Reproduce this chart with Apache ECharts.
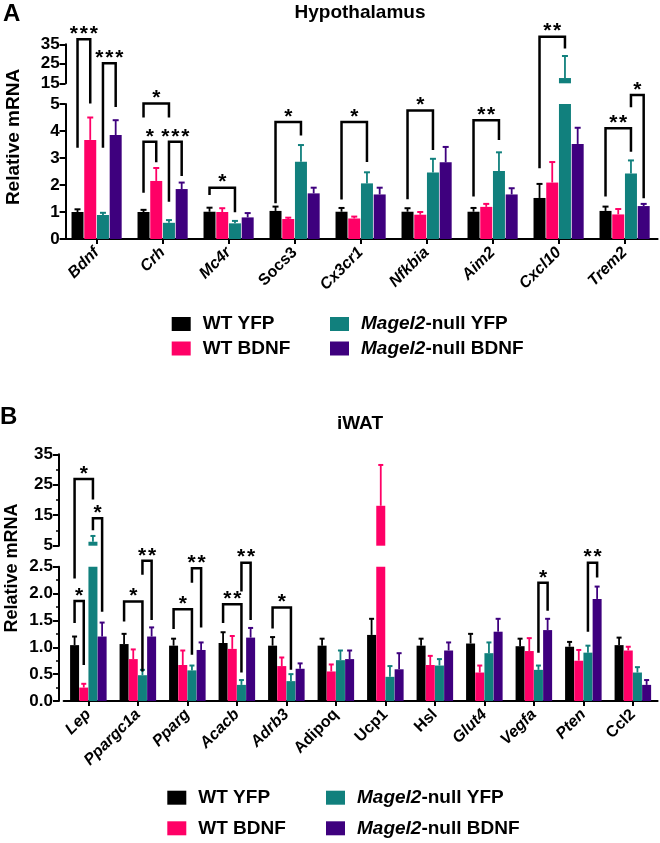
<!DOCTYPE html>
<html>
<head>
<meta charset="utf-8">
<script src="https://cdn.jsdelivr.net/npm/echarts/dist/echarts.min.js"></script>
<style>html,body{margin:0;padding:0;background:#fff}#c{width:660px;height:843px}</style>
</head>
<body>
<div id="c"></div>
<script>
// ---------------- DATA ----------------
const groupNames = ['WT YFP', 'WT BDNF', 'Magel2-null YFP', 'Magel2-null BDNF'];

// Panel A: Hypothalamus
const hypCats = ['Bdnf', 'Crh', 'Mc4r', 'Socs3', 'Cx3cr1', 'Nfkbia', 'Aim2', 'Cxcl10', 'Trem2'];
const hypWtYfp      = [1.00, 1.00, 1.01, 1.04, 1.01, 1.01, 1.01, 1.52, 1.04];
const hypWtYfpSem   = [0.10, 0.08, 0.15, 0.16, 0.14, 0.13, 0.14, 0.52, 0.16];
const hypWtBdnf     = [3.67, 2.15, 1.00, 0.74, 0.76, 0.90, 1.19, 2.09, 0.91];
const hypWtBdnfSem  = [0.83, 0.48, 0.14, 0.05, 0.07, 0.10, 0.11, 0.76, 0.20];
const hypNullYfp    = [0.89, 0.60, 0.58, 2.86, 2.06, 2.46, 2.52, 17.7, 2.43];
const hypNullYfpSem = [0.08, 0.10, 0.09, 0.62, 0.41, 0.51, 0.69, 11.3, 0.48];
const hypNullBdnf   = [3.85, 1.85, 0.80, 1.69, 1.65, 2.84, 1.65, 3.52, 1.22];
const hypNullBdnfSem= [0.55, 0.24, 0.16, 0.21, 0.25, 0.57, 0.23, 0.60, 0.08];
// brackets: [category, groupA, groupB, top level, legA bottom, legB bottom, stars]
const hypBrackets = [
  [0, 0, 1, 37.6, 3.38, 5.3, 3],
  [0, 2, 3, 25.3, 3.38, 4.89, 3],
  [1, 0, 2, 5.3, 4.5, 4.5, 1],
  [1, 0, 1, 3.6, 1.71, 2.84, 1],
  [1, 2, 3, 3.6, 1.38, 2.33, 3],
  [2, 0, 2, 1.9, 1.63, 0.99, 1],
  [3, 0, 2, 4.33, 1.32, 3.83, 1],
  [4, 0, 2, 4.33, 1.46, 2.85, 1],
  [5, 0, 2, 4.76, 1.47, 3.3, 1],
  [6, 0, 2, 4.4, 1.57, 3.67, 2],
  [7, 0, 2, 38.9, 2.62, 32.9, 2],
  [8, 0, 2, 4.1, 1.57, 3.23, 2],
  [8, 2, 3, 9.35, 4.88, 1.51, 1]
];
const hypLowTicks = [0, 5, 1];   // min, max, interval
const hypUpTicks = [15, 35, 10];

// Panel B: iWAT
const watCats = ['Lep', 'Ppargc1a', 'Pparg', 'Acacb', 'Adrb3', 'Adipoq', 'Ucp1', 'Hsl', 'Glut4', 'Vegfa', 'Pten', 'Ccl2'];
const watWtYfp      = [1.04, 1.06, 1.03, 1.08, 1.03, 1.03, 1.23, 1.03, 1.07, 1.02, 1.01, 1.04];
const watWtYfpSem   = [0.16, 0.19, 0.13, 0.20, 0.16, 0.13, 0.30, 0.13, 0.18, 0.14, 0.09, 0.14];
const watWtBdnf     = [0.25, 0.78, 0.67, 0.97, 0.65, 0.55, 18.1, 0.67, 0.53, 0.93, 0.75, 0.94];
const watWtBdnfSem  = [0.07, 0.18, 0.27, 0.24, 0.16, 0.13, 13.4, 0.17, 0.13, 0.24, 0.20, 0.07];
const watNullYfp    = [6.3, 0.48, 0.57, 0.30, 0.37, 0.76, 0.45, 0.66, 0.89, 0.58, 0.90, 0.53];
const watNullYfpSem = [1.9, 0.10, 0.09, 0.09, 0.13, 0.18, 0.20, 0.12, 0.20, 0.08, 0.13, 0.10];
const watNullBdnf   = [1.20, 1.20, 0.95, 1.18, 0.60, 0.78, 0.59, 0.94, 1.29, 1.32, 1.90, 0.30];
const watNullBdnfSem= [0.26, 0.17, 0.14, 0.18, 0.10, 0.16, 0.30, 0.15, 0.24, 0.21, 0.23, 0.09];
const watBrackets = [
  [0, 0, 2, 26.9, 2.28, 20.2, 1],
  [0, 2, 3, 14.0, 10.1, 1.66, 1],
  [0, 0, 1, 1.86, 1.45, 0.67, 1],
  [1, 0, 2, 1.85, 1.48, 0.55, 1],
  [1, 2, 3, 3.21, 2.35, 1.51, 2],
  [2, 0, 2, 1.71, 1.34, 0.86, 1],
  [2, 2, 3, 2.47, 2.2, 1.37, 2],
  [3, 0, 2, 1.8, 1.45, 0.53, 2],
  [3, 2, 3, 2.98, 2.04, 1.51, 2],
  [4, 0, 2, 1.74, 1.35, 0.58, 1],
  [9, 2, 3, 2.2, 0.9, 1.68, 1],
  [10, 2, 3, 2.98, 1.29, 2.3, 2]
];
const watLowTicks = [0, 2.5, 0.5];
const watUpTicks = [5, 35, 10];

const hypUprightLabels = ['Socs3'];
const watUprightLabels = ['Adipoq', 'Ucp1', 'Hsl', 'Ccl2'];

// ---------------- STYLE / LAYOUT ----------------
const FONT = '"Liberation Sans", Arial, Helvetica, sans-serif';
const colors = ['#000000', '#FF0066', '#11807D', '#3E007E'];

const panels = [
  {
    cats: hypCats, upright: hypUprightLabels,
    vals: [hypWtYfp, hypWtBdnf, hypNullYfp, hypNullBdnf],
    sems: [hypWtYfpSem, hypWtBdnfSem, hypNullYfpSem, hypNullBdnfSem],
    brackets: hypBrackets, low: hypLowTicks, up: hypUpTicks,
    left: 63.6, width: 594, upTop: 44.3, upH: 39, lowTop: 104, lowH: 135,
    yOffset: -2, bw: 12, gap: 0.06, cap: 6, minor: false, decimals: 0
  },
  {
    cats: watCats, upright: watUprightLabels,
    vals: [watWtYfp, watWtBdnf, watNullYfp, watNullBdnf],
    sems: [watWtYfpSem, watWtBdnfSem, watNullYfpSem, watNullBdnfSem],
    brackets: watBrackets, low: watLowTicks, up: watUpTicks,
    left: 63.6, width: 594, upTop: 454.3, upH: 91.4, lowTop: 566.7, lowH: 134.3,
    yOffset: 4.6, bw: 9, gap: 0.02, cap: 5, minor: true, decimals: 1
  }
];

const grids = [], xAxes = [], yAxes = [], series = [];

function errRender(grp, step, cap, color) {
  return function (params, api) {
    const cat = api.value(0), m = api.value(1), s = api.value(2);
    const cs = params.coordSys;
    const p0 = api.coord([cat, m]);
    const p1 = api.coord([cat, m + s]);
    const x = p0[0] + (grp - 1.5) * step;
    const top = cs.y, bot = cs.y + cs.height;
    let y0 = p0[1], y1 = p1[1];
    if ((y0 < top && y1 < top) || (y0 > bot && y1 > bot)) return { type: 'group', children: [] };
    const cl = v => Math.max(top, Math.min(bot, v));
    const children = [{
      type: 'line', shape: { x1: x, y1: cl(y0), x2: x, y2: cl(y1) },
      style: { stroke: color, lineWidth: 1.8 }
    }];
    if (y1 >= top && y1 <= bot) {
      children.push({
        type: 'line', shape: { x1: x - cap / 2, y1: y1, x2: x + cap / 2, y2: y1 },
        style: { stroke: color, lineWidth: 2 }
      });
    }
    return { type: 'group', children };
  };
}

panels.forEach((p, pi) => {
  [['up', p.upTop, p.upH, p.up], ['low', p.lowTop, p.lowH, p.low]].forEach(([kind, top, h, ticks]) => {
    const gi = grids.length;
    grids.push({ left: p.left, width: p.width, top: top, height: h, containLabel: false, outerBoundsMode: 'none' });
    const isLow = kind === 'low';
    xAxes.push({
      type: 'category', gridIndex: gi, data: p.cats, show: isLow,
      boundaryGap: true,
      axisLine: { show: true, onZero: false, lineStyle: { color: '#000', width: 2 } },
      axisTick: { show: true, alignWithLabel: true, length: 5, lineStyle: { color: '#000', width: 2 } },
      axisLabel: {
        show: true, interval: 0, rotate: 45, margin: 11, color: '#000',
        fontFamily: FONT, fontSize: 16, fontWeight: 'bold',
        formatter: v => (p.upright.indexOf(v) >= 0 ? '{n|' : '{i|') + v + '}',
        rich: {
          i: { fontFamily: FONT, fontSize: 16, fontWeight: 'bold', fontStyle: 'italic', color: '#000' },
          n: { fontFamily: FONT, fontSize: 16, fontWeight: 'bold', color: '#000' }
        }
      },
      splitLine: { show: false }
    });
    yAxes.push({
      type: 'value', gridIndex: gi, min: ticks[0], max: ticks[1], interval: ticks[2],
      offset: p.yOffset,
      axisLine: { show: true, lineStyle: { color: '#000', width: 2 } },
      axisTick: { show: true, inside: false, length: 6, lineStyle: { color: '#000', width: 2 } },
      minorTick: { show: p.minor, splitNumber: 2, length: 3, lineStyle: { color: '#000', width: 1.5 } },
      axisLabel: {
        show: true, margin: 6, color: '#000', fontFamily: FONT, fontSize: 17, fontWeight: 'bold',
        formatter: v => (kind === 'low' ? v.toFixed(p.decimals) : String(v))
      },
      splitLine: { show: false }
    });
    const step = p.bw * (1 + p.gap);
    for (let k = 0; k < 4; k++) {
      series.push({
        type: 'bar', name: groupNames[k], xAxisIndex: gi, yAxisIndex: gi,
        data: p.vals[k], barWidth: p.bw, barGap: (p.gap * 100) + '%', clip: true,
        itemStyle: { color: colors[k] }, silent: true, animation: false
      });
    }
    for (let k = 0; k < 4; k++) {
      series.push({
        type: 'custom', name: 'err' + k, xAxisIndex: gi, yAxisIndex: gi,
        data: p.cats.map((c, ci) => [ci, p.vals[k][ci], p.sems[k][ci]]),
        renderItem: errRender(k, step, p.cap, colors[k]),
        encode: { x: 0, y: 1 }, silent: true, animation: false, z: 3
      });
    }
  });
});

const legendText = {
  fontFamily: FONT, fontSize: 19, fontWeight: 'bold', color: '#000', lineHeight: 20,
  padding: [0, 0, 0, 7],
  rich: { i: { fontFamily: FONT, fontSize: 19, fontWeight: 'bold', fontStyle: 'italic', color: '#000', lineHeight: 20 } }
};
const legendFmt = n => n.indexOf('Magel2') === 0 ? '{i|Magel2}' + n.slice(6) : n;
function mkLegend(names, left, top, gap) {
  return {
    data: names, orient: 'vertical', left: left, top: top, padding: 0,
    itemWidth: 19, itemHeight: 14, itemGap: gap, icon: 'rect', selectedMode: false,
    textStyle: legendText, formatter: legendFmt
  };
}

const baseGraphics = [
  { type: 'text', left: 3, top: 2, style: { text: 'A', font: 'bold 24px ' + FONT, fill: '#000' } },
  { type: 'text', left: 0, top: 405, style: { text: 'B', font: 'bold 24px ' + FONT, fill: '#000' } },
  { type: 'text', x: 360, y: 13, style: { text: 'Hypothalamus', font: 'bold 19px ' + FONT, fill: '#000', align: 'center', verticalAlign: 'middle' } },
  { type: 'text', x: 360, y: 424, style: { text: 'iWAT', font: 'bold 19px ' + FONT, fill: '#000', align: 'center', verticalAlign: 'middle' } },
  { type: 'text', x: 14, y: 137, rotation: Math.PI / 2, style: { text: 'Relative mRNA', font: 'bold 19px ' + FONT, fill: '#000', align: 'center', verticalAlign: 'middle' } },
  { type: 'text', x: 12, y: 568, rotation: Math.PI / 2, style: { text: 'Relative mRNA', font: 'bold 18px ' + FONT, fill: '#000', align: 'center', verticalAlign: 'middle' } }
];

const option = {
  animation: false,
  textStyle: { fontFamily: FONT },
  grid: grids, xAxis: xAxes, yAxis: yAxes, series: series,
  legend: [
    mkLegend(['WT YFP', 'WT BDNF'], 171.7, 314, 4.5),
    mkLegend(['Magel2-null YFP', 'Magel2-null BDNF'], 330, 314, 4.5),
    mkLegend(['WT YFP', 'WT BDNF'], 167.3, 787.7, 10.6),
    mkLegend(['Magel2-null YFP', 'Magel2-null BDNF'], 326, 787.7, 10.6)
  ],
  graphic: baseGraphics
};

const chart = echarts.init(document.getElementById('c'), null, { renderer: 'canvas' });
chart.setOption(option);

// significance brackets, positioned through the chart's own scales
const extra = [];
panels.forEach((p, pi) => {
  const upIdx = pi * 2, lowIdx = pi * 2 + 1;
  const yOf = v => {
    if (v <= p.low[1]) return chart.convertToPixel({ yAxisIndex: lowIdx }, v);
    if (v >= p.up[0]) return chart.convertToPixel({ yAxisIndex: upIdx }, v);
    const a = chart.convertToPixel({ yAxisIndex: lowIdx }, p.low[1]);
    const b = chart.convertToPixel({ yAxisIndex: upIdx }, p.up[0]);
    return a + (b - a) * (v - p.low[1]) / (p.up[0] - p.low[1]);
  };
  const step = p.bw * (1 + p.gap);
  const xOf = (cat, grp) => chart.convertToPixel({ xAxisIndex: lowIdx }, cat) + (grp - 1.5) * step;
  p.brackets.forEach(b => {
    const x1 = xOf(b[0], b[1]), x2 = xOf(b[0], b[2]);
    const yt = yOf(b[3]), ya = yOf(b[4]), yb = yOf(b[5]);
    extra.push({
      type: 'polyline', shape: { points: [[x1, ya], [x1, yt], [x2, yt], [x2, yb]] },
      style: { stroke: '#000', lineWidth: 2.5, fill: null }, z: 10
    });
    extra.push({
      type: 'text', x: (x1 + x2) / 2, y: yt - 5, z: 10,
      style: { text: new Array(b[6]).fill('*').join('\u200A'), font: 'bold 21px ' + FONT, fill: '#000', align: 'center', verticalAlign: 'middle' }
    });
  });
});
chart.setOption({ graphic: baseGraphics.concat(extra) });
</script>
</body>
</html>
